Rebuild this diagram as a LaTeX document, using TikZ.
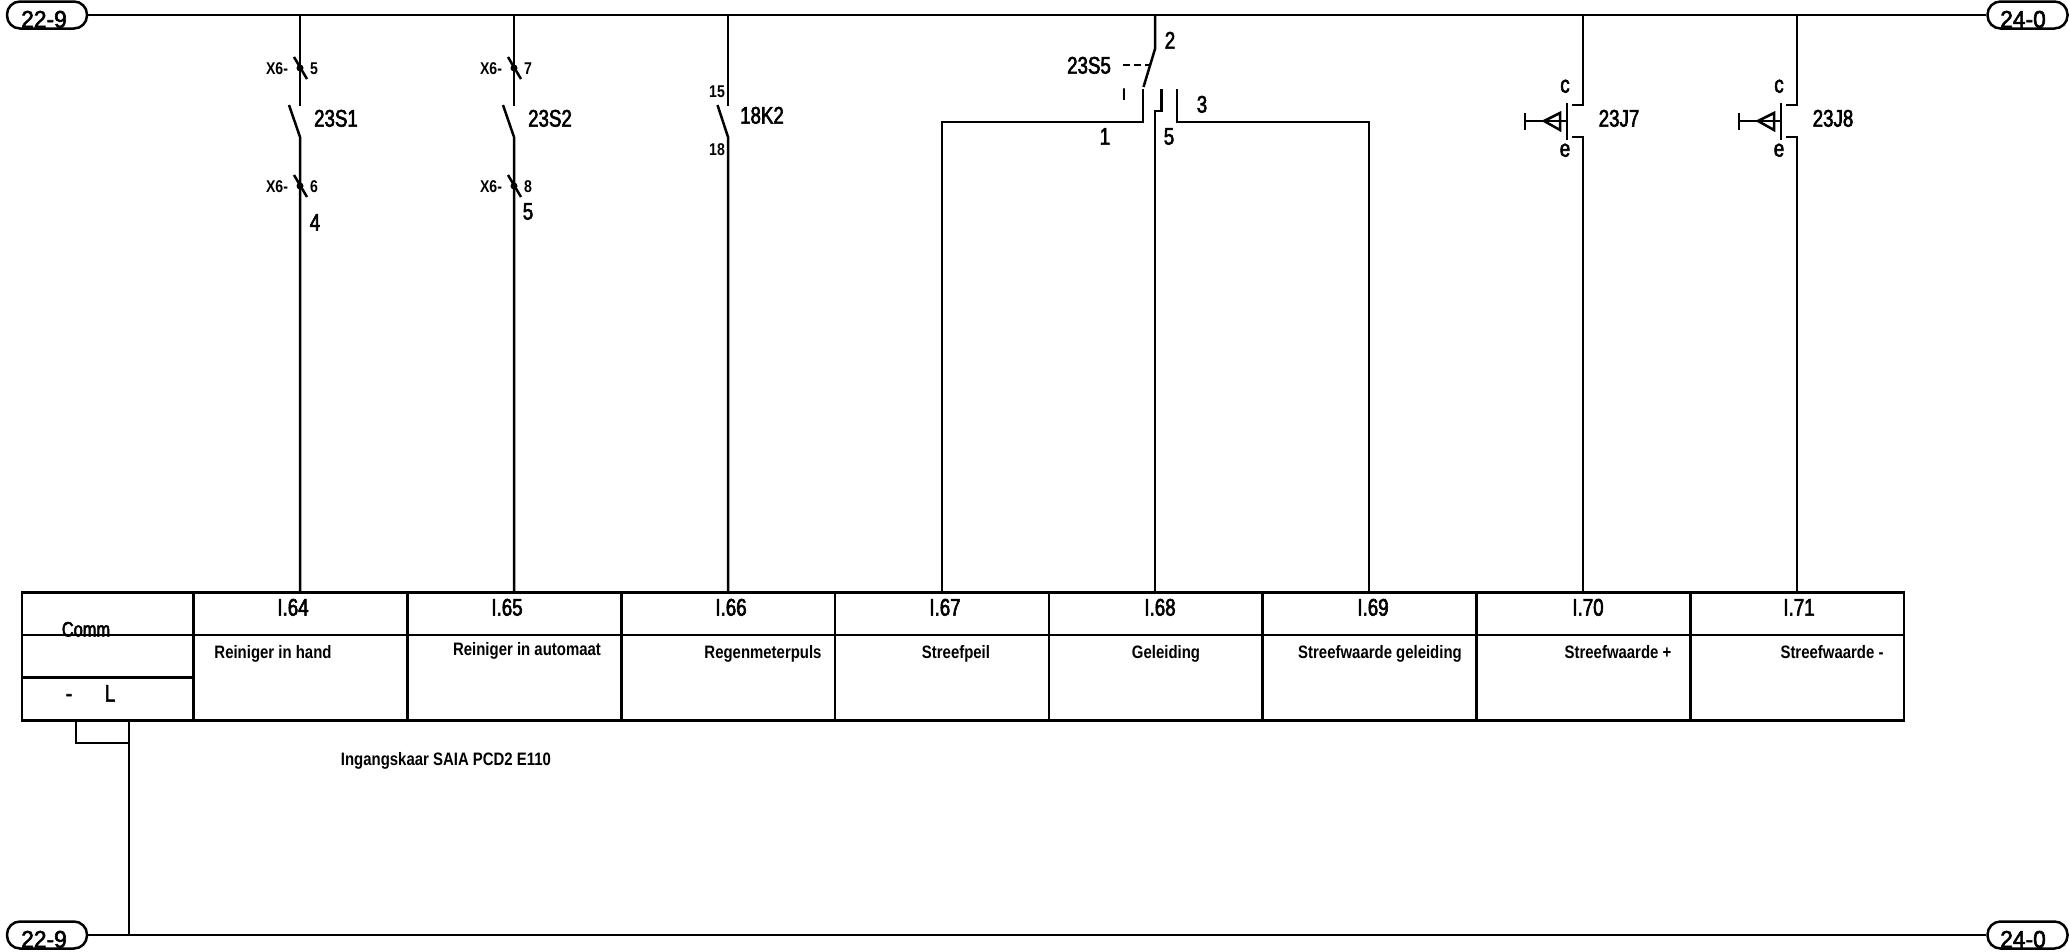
\documentclass[tikz,border=0pt]{standalone}
\usepackage{fontspec}
\newfontfamily\cadfont[FakeStretch=0.78,FakeBold=2.5]{Liberation Sans}
\newfontfamily\cadwide[FakeStretch=0.83]{Liberation Sans}
\newfontfamily\cadpill[FakeStretch=0.95,FakeBold=2.5]{Liberation Sans}
\tikzset{%
    tag/.style={inner sep=0pt,yshift=-4pt,text height=0.72em,text depth=0pt,font=\cadfont\fontsize{24}{24}\selectfont},
    pilltag/.style={inner sep=0pt,yshift=-4pt,text height=0.72em,text depth=0pt,font=\cadpill\fontsize{24}{24}\selectfont},
    commtag/.style={inner sep=0pt,yshift=-4pt,text height=0.72em,text depth=0pt,font=\cadfont\fontsize{21}{21}\selectfont},
    tinytag/.style={inner sep=0pt,yshift=-3pt,text height=0.72em,text depth=0pt,font=\cadwide\bfseries\fontsize{17}{17}\selectfont},
    desc/.style={inner sep=0pt,yshift=-3pt,text height=0.72em,text depth=0pt,font=\cadwide\bfseries\fontsize{18}{18}\selectfont},
    pill/.style={draw,rounded corners=13pt,minimum width=80pt,minimum height=27pt,inner sep=0pt},
    topcell/.style={draw,minimum width=213.75pt,minimum height=42.5pt,inner sep=0pt},
    lowcell/.style={draw,minimum width=213.75pt,minimum height=85.5pt,inner sep=0pt},
    dot/.style={circle,fill,minimum size=7pt,inner sep=0pt}
}
\begin{document}
\begin{tikzpicture}[x=1pt,y=-1pt,line width=2.5pt]
  \useasboundingbox (0,0) rectangle (2069,951);

  % terminals
  \node[pill] (lt) at (47,15) {};
  \node[pill] (rt) at (2027.5,15) {};
  \node[pill] (lb) at (47,935) {};
  \node[pill] (rb) at (2027.5,935) {};
  \node[pilltag] (ltx) at (44,20) {22-9};
  \node[pilltag] (rtx) at (2023,20) {24-0};
  \node[pilltag] (lbx) at (44,940) {22-9};
  \node[pilltag] (rbx) at (2023,940) {24-0};

  % card
  \node[draw,minimum width=171.6pt,minimum height=42.5pt,inner sep=0pt] (comm) at (108,613.75) {};
  \node[draw,minimum width=171.6pt,minimum height=42.5pt,inner sep=0pt] (gap) at (108,656.25) {};
  \node[draw,minimum width=171.6pt,minimum height=43pt,inner sep=0pt] (pol) at (108,699) {};
  \node[topcell] (i64) at (300.5,613.75) {};
  \node[topcell] (i65) at (514.25,613.75) {};
  \node[topcell] (i66) at (728.25,613.75) {};
  \node[topcell] (i67) at (942,613.75) {};
  \node[topcell] (i68) at (1155.75,613.75) {};
  \node[topcell] (i69) at (1369.5,613.75) {};
  \node[topcell] (i70) at (1583.25,613.75) {};
  \node[topcell] (i71) at (1797.25,613.75) {};
  \node[lowcell] (d64) at (300.5,677.75) {};
  \node[lowcell] (d65) at (514.25,677.75) {};
  \node[lowcell] (d66) at (728.25,677.75) {};
  \node[lowcell] (d67) at (942,677.75) {};
  \node[lowcell] (d68) at (1155.75,677.75) {};
  \node[lowcell] (d69) at (1369.5,677.75) {};
  \node[lowcell] (d70) at (1583.25,677.75) {};
  \node[lowcell] (d71) at (1797.25,677.75) {};

  \node[commtag] (commtx) at (86,629) {Comm};
  \node[tag] (minus) at (69,694) {-};
  \node[tag] (ltr) at (110,694) {L};
  \node[tag] (t64) at (293,608) {I.64};
  \node[tag] (t65) at (507,608) {I.65};
  \node[tag] (t66) at (731,608) {I.66};
  \node[tag] (t67) at (945,608) {I.67};
  \node[tag] (t68) at (1160,608) {I.68};
  \node[tag] (t69) at (1373,608) {I.69};
  \node[tag] (t70) at (1588,608) {I.70};
  \node[tag] (t71) at (1799,608) {I.71};
  \node[desc] (n64) at (273,652) {Reiniger in hand};
  \node[desc] (n65) at (527,649) {Reiniger in automaat};
  \node[desc] (n66) at (763,652) {Regenmeterpuls};
  \node[desc] (n67) at (956,652) {Streefpeil};
  \node[desc] (n68) at (1166,652) {Geleiding};
  \node[desc] (n69) at (1380,652) {Streefwaarde geleiding};
  \node[desc] (n70) at (1618,652) {Streefwaarde +};
  \node[desc] (n71) at (1832,652) {Streefwaarde -};
  \node[desc] (card) at (446,759) {Ingangskaar SAIA PCD2 E110};

  % busbars
  \draw (lt) -- (rt);
  \draw (lb) -- (rb);
  \coordinate (jl) at (76,743);
  \coordinate (jr) at (129,743);
  \coordinate (jb) at (129,935);
  \draw (pol.south -| jl) -- (jl) -- (jr);
  \draw (pol.south -| jr) -- (jb);

  % 23S1
  \node[dot] (x5) at (300,68) {};
  \node[dot] (x6) at (300,186) {};
  \coordinate (a64) at (300,15);
  \coordinate (b64) at (300,106);
  \coordinate (c64) at (289,105);
  \coordinate (e64) at (300,137);
  \draw (a64) -- (b64);
  \draw (c64) -- (e64) -- (e64 |- i64.north);
  \draw ([shift={(-6,-11)}]x5.center) -- ([shift={(7,11)}]x5.center);
  \draw ([shift={(-6,-11)}]x6.center) -- ([shift={(7,11)}]x6.center);
  \node[tinytag] (x5l) at (277,68) {X6-};
  \node[tinytag] (x5r) at (314,68) {5};
  \node[tinytag] (x6l) at (277,186) {X6-};
  \node[tinytag] (x6r) at (314,186) {6};
  \node[tag] (s1) at (336,119) {23S1};
  \node[tag] (w4) at (315,223) {4};

  % 23S2
  \node[dot] (x7) at (514,68) {};
  \node[dot] (x8) at (514,186) {};
  \coordinate (a65) at (514,15);
  \coordinate (b65) at (514,106);
  \coordinate (c65) at (503,105);
  \coordinate (e65) at (514,137);
  \draw (a65) -- (b65);
  \draw (c65) -- (e65) -- (e65 |- i65.north);
  \draw ([shift={(-6,-11)}]x7.center) -- ([shift={(7,11)}]x7.center);
  \draw ([shift={(-6,-11)}]x8.center) -- ([shift={(7,11)}]x8.center);
  \node[tinytag] (x7l) at (491,68) {X6-};
  \node[tinytag] (x7r) at (528,68) {7};
  \node[tinytag] (x8l) at (491,186) {X6-};
  \node[tinytag] (x8r) at (528,186) {8};
  \node[tag] (s2) at (550,119) {23S2};
  \node[tag] (w5) at (528,212) {5};

  % 18K2
  \coordinate (a66) at (728,15);
  \coordinate (b66) at (728,106);
  \coordinate (c66) at (717.5,105);
  \coordinate (e66) at (728,137);
  \draw (a66) -- (b66);
  \draw (c66) -- (e66) -- (e66 |- i66.north);
  \node[tinytag] (k15) at (717,91) {15};
  \node[tinytag] (k18) at (717,149) {18};
  \node[tag] (k2) at (762,116) {18K2};

  % 23S5
  \coordinate (a68) at (1155,15);
  \coordinate (b68) at (1155,49);
  \coordinate (c68) at (1143.5,87);
  \coordinate (p1) at (1143,89);
  \coordinate (p2) at (1143,122);
  \coordinate (p3) at (942,122);
  \coordinate (q1) at (1161.5,89);
  \coordinate (q2) at (1161.5,111);
  \coordinate (q3) at (1155,111);
  \coordinate (r1) at (1177,89);
  \coordinate (r2) at (1177,122);
  \coordinate (r3) at (1369,122);
  \coordinate (m1) at (1123,65);
  \coordinate (m2) at (1149,65);
  \draw (a68) -- (b68) -- (c68);
  \draw (p1) -- (p2) -- (p3) -- (p3 |- i67.north);
  \draw (q1) -- (q2) -- (q3) -- (q3 |- i68.north);
  \draw (r1) -- (r2) -- (r3) -- (r3 |- i69.north);
  \draw[dash pattern=on 7pt off 4pt] (m1) -- (m2);
  \node[tag] (s5) at (1089,66) {23S5};
  \node[tag] (p2t) at (1170,41) {2};
  \node[tinytag] (pi) at (1124,94) {I};
  \node[tag] (p3t) at (1202,105) {3};
  \node[tag] (p1t) at (1105,137) {1};
  \node[tag] (p5t) at (1169,137) {5};

  % 23J7
  \coordinate (a70) at (1583,15);
  \coordinate (b70) at (1583,105);
  \coordinate (c70) at (1572,105);
  \coordinate (e70) at (1572,137);
  \coordinate (f70) at (1583,137);
  \coordinate (g70t) at (1567,103);
  \coordinate (g70b) at (1567,140);
  \coordinate (g70m) at (1567,121);
  \coordinate (h70) at (1525,121);
  \coordinate (h70t) at (1525,113);
  \coordinate (h70b) at (1525,130);
  \coordinate (v70) at (1544,121);
  \coordinate (v70t) at (1560,113);
  \coordinate (v70b) at (1560,130);
  \draw (a70) -- (b70) -- (c70);
  \draw (e70) -- (f70) -- (f70 |- i70.north);
  \draw (g70t) -- (g70b);
  \draw (g70m) -- (h70);
  \draw (h70t) -- (h70b);
  \draw (v70) -- (v70t) -- (v70b) -- cycle;
  \node[tag] (j7c) at (1565,85) {c};
  \node[tag] (j7e) at (1565,149) {e};
  \node[tag] (j7) at (1619,119) {23J7};

  % 23J8
  \coordinate (a71) at (1797,15);
  \coordinate (b71) at (1797,105);
  \coordinate (c71) at (1786,105);
  \coordinate (e71) at (1786,137);
  \coordinate (f71) at (1797,137);
  \coordinate (g71t) at (1781,103);
  \coordinate (g71b) at (1781,140);
  \coordinate (g71m) at (1781,121);
  \coordinate (h71) at (1739,121);
  \coordinate (h71t) at (1739,113);
  \coordinate (h71b) at (1739,130);
  \coordinate (v71) at (1758,121);
  \coordinate (v71t) at (1774,113);
  \coordinate (v71b) at (1774,130);
  \draw (a71) -- (b71) -- (c71);
  \draw (e71) -- (f71) -- (f71 |- i71.north);
  \draw (g71t) -- (g71b);
  \draw (g71m) -- (h71);
  \draw (h71t) -- (h71b);
  \draw (v71) -- (v71t) -- (v71b) -- cycle;
  \node[tag] (j8c) at (1779,85) {c};
  \node[tag] (j8e) at (1779,149) {e};
  \node[tag] (j8) at (1833,119) {23J8};
\end{tikzpicture}
\end{document}
